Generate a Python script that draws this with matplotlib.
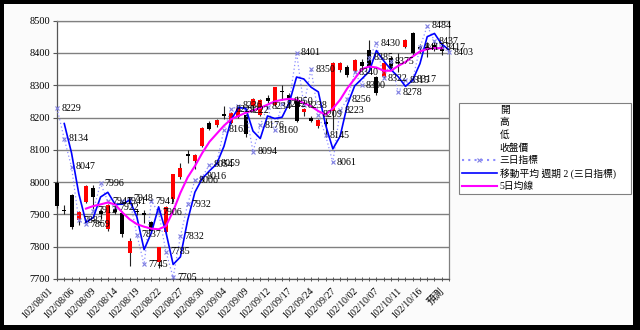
import numpy as np
import pandas as pd
import matplotlib
matplotlib.use("Agg")
import matplotlib.pyplot as plt
import matplotlib.transforms as mtransforms
from matplotlib.lines import Line2D
from matplotlib.patches import Rectangle

# Données
tick_labels = ["102/08/01", "102/08/06", "102/08/09", "102/08/14", "102/08/19",
               "102/08/22", "102/08/27", "102/08/30", "102/09/04", "102/09/09",
               "102/09/12", "102/09/17", "102/09/24", "102/09/27", "102/10/02",
               "102/10/07", "102/10/11", "102/10/16", "預測"]

opens = [7998, 7915, 7959, 7882, 7940, 7983, 7912, 7854, 7918, 7905,
         7782, 7912, 7905, 7875, 7752, 7845, 7947, 8015, 8088, 8065,
         8111, 8184, 8176, 8212, 8184, 8202, 8208, 8235, 8209, 8262,
         8240, 8282, 8270, 8250, 8218, 8200, 8175, 8185, 8219, 8348,
         8358, 8343, 8372, 8410, 8327, 8327, 8385, 8372, 8420, 8461,
         8420, 8418, 8425, 8418]
highs = [8002, 7930, 7962, 7910, 7992, 7990, 7918, 7932, 7925, 7912,
         7826, 7918, 7915, 7880, 7800, 7925, 8026, 8060, 8100, 8088,
         8172, 8190, 8196, 8236, 8218, 8234, 8212, 8262, 8258, 8270,
         8296, 8300, 8275, 8268, 8230, 8205, 8196, 8200, 8372, 8372,
         8362, 8382, 8380, 8440, 8330, 8372, 8392, 8400, 8442, 8466,
         8428, 8433, 8440, 8428]
lows = [7920, 7900, 7855, 7868, 7936, 7915, 7890, 7848, 7900, 7830,
        7741, 7898, 7872, 7845, 7733, 7840, 7940, 8010, 8060, 8040,
        8108, 8160, 8172, 8195, 8180, 8198, 8140, 8230, 8205, 8245,
        8236, 8255, 8240, 8185, 8205, 8185, 8168, 8140, 8162, 8340,
        8325, 8340, 8355, 8355, 8270, 8322, 8350, 8340, 8415, 8395,
        8400, 8388, 8405, 8395]
closes = [7926, 7910, 7860, 7906, 7988, 7955, 7902, 7928, 7908, 7838,
          7818, 7908, 7898, 7848, 7798, 7922, 8024, 8045, 8082, 8085,
          8169, 8165, 8193, 8206, 8215, 8230, 8148, 8258, 8255, 8250,
          8294, 8278, 8262, 8190, 8228, 8190, 8193, 8180, 8369, 8370,
          8332, 8379, 8360, 8358, 8276, 8369, 8354, 8368, 8440, 8399,
          8412, 8414, 8415, 8405]

# 三日指標 (dernier point = 預測)
indicateur = [8229, 8134, 8047, 7882, 7869, 7912, 7996, 7941, 7922, 7941,
              7948, 7837, 7745, 7941, 7906, 7785, 7705, 7832, 7932, 8006,
              8016, 8054, 8059, 8163, 8225, 8236, 8222, 8094, 8176, 8234,
              8160, 8242, 8250, 8401, 8238, 8350, 8209, 8145, 8061, 8223,
              8256, 8340, 8300, 8385, 8430, 8322, 8375, 8278, 8315, 8317,
              8417, 8484, 8437, 8417, 8403]

# 5日均線 (à partir du 5e jour)
moy5 = [7918, 7926, 7931, 7937, 7931, 7906, 7885, 7870, 7862, 7856,
        7854, 7864, 7910, 7967, 8015, 8050, 8090, 8125, 8150, 8175,
        8195, 8205, 8215, 8222, 8230, 8240, 8250, 8255, 8258, 8255,
        8245, 8235, 8220, 8209, 8228, 8255, 8291, 8320, 8350, 8358,
        8355, 8345, 8345, 8360, 8372, 8389, 8405, 8412, 8415, 8415]

# Couleurs
rouge = "#ff0000"
bleu = "#0000ff"
magenta = "#ff00ff"
lavande = "#8c8cff"
croix = "#8080e0"

plt.rcParams['font.family'] = ['Liberation Serif', 'Noto Sans CJK TC']

fig = plt.figure(figsize=(6.4, 3.3), dpi=100)
fig.patch.set_facecolor("black")
fig.add_artist(Rectangle((4 / 640, 5 / 330), 629 / 640, 321 / 330,
                         transform=fig.transFigure, facecolor="#fbfbfb",
                         edgecolor="none", zorder=0))

ax = fig.add_axes([57 / 640, 1 - 279 / 330, 392 / 640, 258.3 / 330])
ax.set_facecolor("white")

jours = np.arange(len(opens))
o = np.array(opens)
c = np.array(closes)
couleurs = [rouge if cc > oo else "black" for oo, cc in zip(o, c)]
hauteur = np.where(np.abs(c - o) < 4, np.sign(c - o + 0.1) * 4, c - o)

# Bougies
ax.vlines(jours, lows, highs, color="#222222", lw=0.8, zorder=3, clip_on=False)
ax.bar(jours, hauteur, bottom=o, width=0.55, color=couleurs, zorder=4,
       clip_on=False)

# 三日指標 + moyenne mobile période 2
pts = np.arange(len(indicateur))
ax.plot(pts, indicateur, ls=(0, (1, 2)), lw=0.9, color=lavande,
        marker="x", ms=3.5, mew=0.8, mec=croix, zorder=5, clip_on=False)
mm2 = pd.Series(indicateur).rolling(2).mean()
ax.plot(pts, mm2, color=bleu, lw=1.2, zorder=6)

# 5日均線
ax.plot(np.arange(4, 4 + len(moy5)), moy5, color=magenta, lw=1.5, zorder=6)

# Étiquettes des valeurs
for i, v in enumerate(indicateur):
    ax.annotate(f"{v}", (i, v), xytext=(3, 0), textcoords="offset points",
                ha="left", va="center", fontsize=7.2, color="black",
                zorder=7, annotation_clip=False)

# Axes
ax.set_xlim(0, len(indicateur) - 1)
ax.set_ylim(7700, 8500)
ax.set_yticks(np.arange(7700, 8501, 100))
ax.tick_params(axis="y", labelsize=7.5, length=3, width=0.8, color="#555555",
               pad=2)
ax.set_xticks(np.arange(0, len(indicateur), 3))
ax.set_xticklabels(tick_labels, rotation=45, ha="right",
                   rotation_mode="anchor", fontsize=7)
ax.set_xticks(pts, minor=True)
ax.tick_params(axis="x", which="both", length=2.5, width=0.7,
               color="#555555", direction="inout", pad=4)
decalage = mtransforms.ScaledTranslation(-0.09, 0, fig.dpi_scale_trans)
for lab in ax.get_xticklabels():
    lab.set_transform(lab.get_transform() + decalage)

ax.grid(axis="y", color="#808080", lw=1.0)
ax.set_axisbelow(True)
for s in ax.spines.values():
    s.set_color("#808080")
    s.set_linewidth(0.9)
ax.spines["left"].set_color("#555555")
ax.spines["bottom"].set_color("#555555")

# Légende
poignees = [
    Line2D([], [], ls="none", label="開"),
    Line2D([], [], ls="none", label="高"),
    Line2D([], [], ls="none", label="低"),
    Line2D([], [], ls="none", label="收盤價"),
    Line2D([], [], ls=(0, (1, 2)), color=lavande, marker="x", ms=3.5,
           mew=0.8, mec=croix, label="三日指標"),
    Line2D([], [], color=bleu, lw=1.2, label="移動平均 週期 2 (三日指標)"),
    Line2D([], [], color=magenta, lw=1.5, label="5日均線"),
]
leg = fig.legend(handles=poignees, loc="upper left", mode="expand",
                 bbox_to_anchor=(459 / 640, 1 - 195 / 330, 172 / 640, 92 / 330),
                 bbox_transform=fig.transFigure, fontsize=7,
                 frameon=True, fancybox=False, framealpha=1,
                 edgecolor="#808080", borderpad=0.3, labelspacing=0.33,
                 handlelength=3.6, handletextpad=0.3, borderaxespad=0)
leg.get_frame().set_linewidth(0.8)

fig.savefig("out.png", dpi=100, facecolor=fig.get_facecolor())
